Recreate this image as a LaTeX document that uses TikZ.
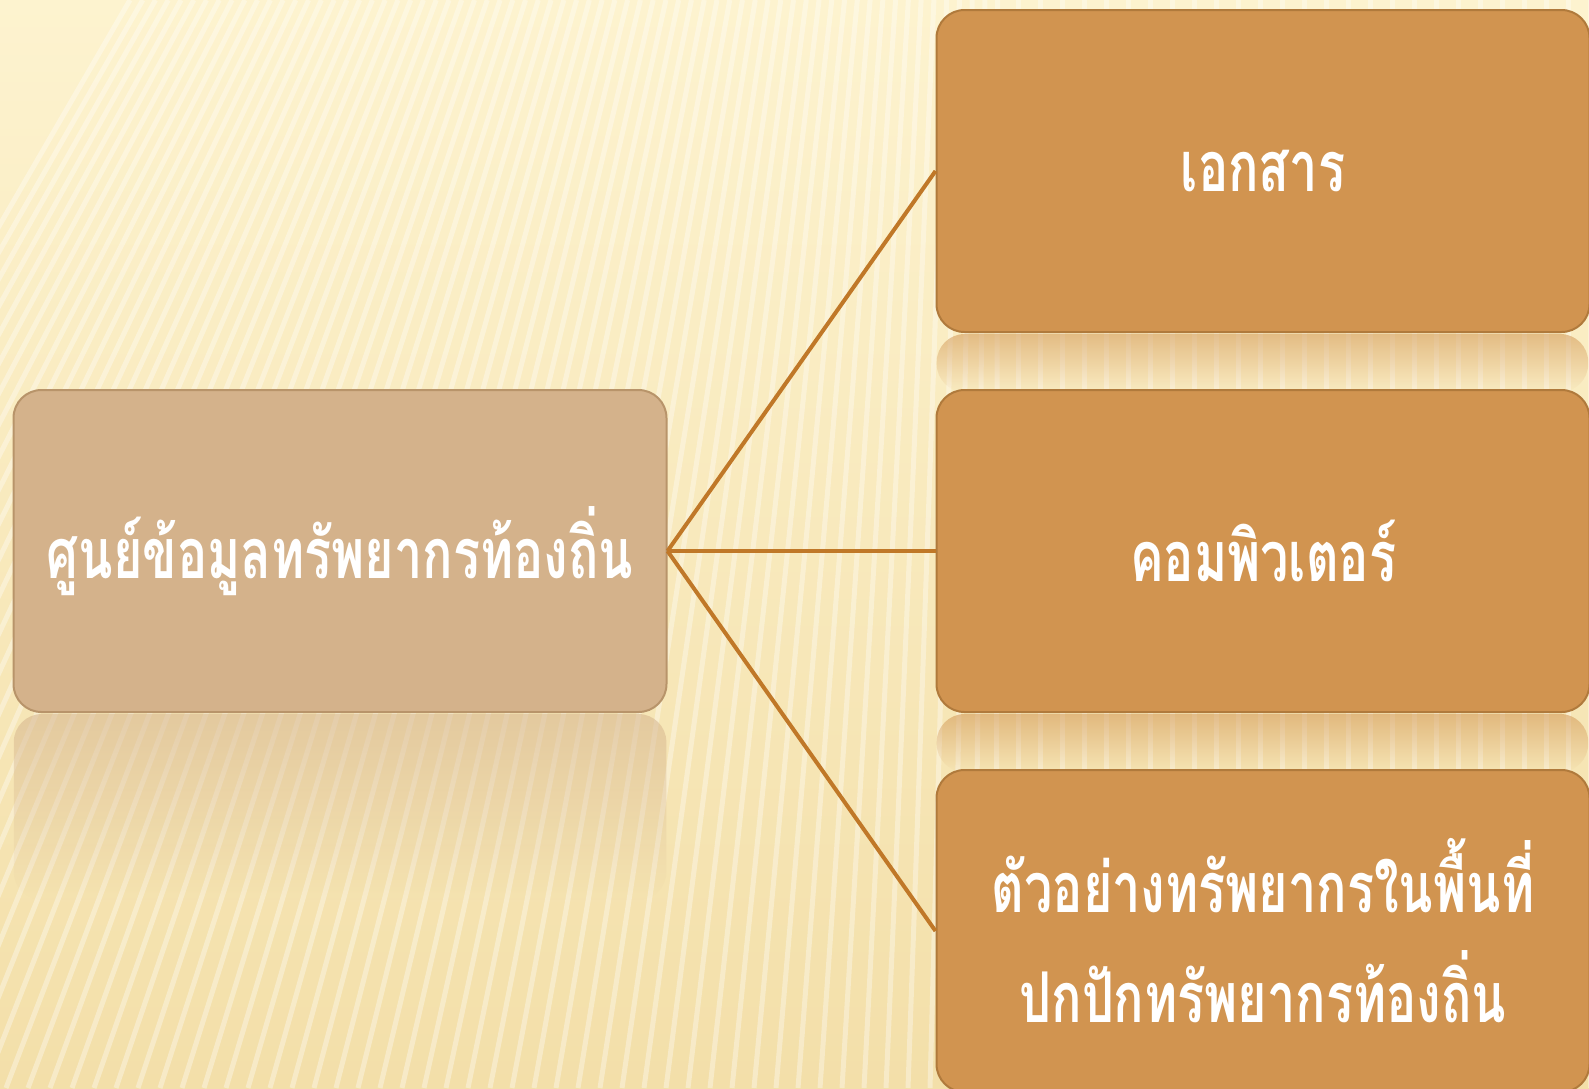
\documentclass[tikz,border=0pt]{standalone}
\usepackage{fontspec}
\newfontfamily\thaifont[Script=Thai,FakeStretch=0.72]{Loma}
\usetikzlibrary{positioning,fadings}
\definecolor{creamtop}{HTML}{FDF3CF}
\definecolor{creambot}{HTML}{F3DFA9}
\definecolor{hubfill}{HTML}{D4B28B}
\definecolor{hubedge}{HTML}{B8946A}
\definecolor{leaffill}{HTML}{D19450}
\definecolor{leafedge}{HTML}{B07A3C}
\definecolor{linkcol}{HTML}{C07828}
\tikzstyle{hub} = [draw=hubedge, line width=2pt, fill=hubfill, rounded corners=28pt, minimum width=653pt, minimum height=322pt, text=white, align=center, font=\thaifont\bfseries\fontsize{70}{110}\selectfont]
\tikzstyle{leaf} = [hub, draw=leafedge, fill=leaffill]
\tikzstyle{link} = [draw=linkcol, line width=4pt]
\tikzstyle{stripe} = [draw=white, line width=5pt, opacity=0.35]
\tikzstyle{mirror} = [rounded corners=28pt, path fading=south, opacity=0.55]

\begin{document}
\begin{tikzpicture}[x=1pt, y=-1pt]

% background
\useasboundingbox (0,0) rectangle (1589,1088);
\shade [top color=creamtop, bottom color=creambot] (0,0) rectangle (1589,1088);
\begin{scope}
\clip (0,0) rectangle (1589,1088);
\foreach \x in {-500,-478,...,1600}
  \draw [stripe] (\x,1088) -- ({\x+max(0,420*(1-\x/1000))},0);
\end{scope}

% reflections
\fill [mirror, fill=hubfill] (14,714) rectangle (667,900);
\fill [mirror, fill=leaffill] (937,334) rectangle (1589,392);
\fill [mirror, fill=leaffill] (937,714) rectangle (1589,772);

% boxes
\node [hub] (center) at (340,551) {ศูนย์ข้อมูลทรัพยากรท้องถิ่น};
\node [leaf] (docs) at (1263,171) {เอกสาร};
\node [leaf, below=56pt of docs] (comp) {คอมพิวเตอร์};
\node [leaf, below=56pt of comp] (sample) {ตัวอย่างทรัพยากรในพื้นที่\\ปกปักทรัพยากรท้องถิ่น};

% links
\draw [link] (center.east) -- (docs.west);
\draw [link] (center.east) -- (comp.west);
\draw [link] (center.east) -- (sample.west);

\end{tikzpicture}
\end{document}
